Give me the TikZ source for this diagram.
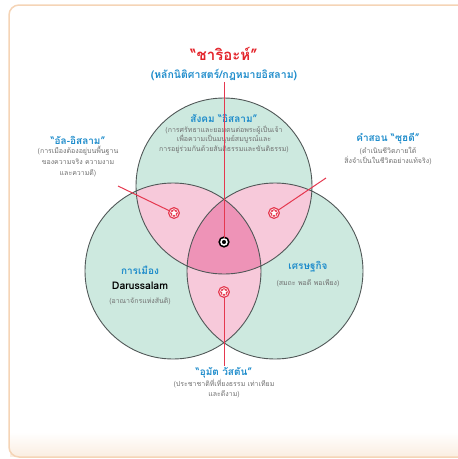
\documentclass[tikz,border=0pt]{standalone}
\usepackage{fontspec}
\newfontfamily\thaifont[Script=Thai]{Loma}
\usetikzlibrary{shapes.geometric,backgrounds}

\definecolor{mint}{HTML}{CDE9DF}
\definecolor{petal}{HTML}{F7C9DA}
\definecolor{core}{HTML}{EE93B7}
\definecolor{rim}{HTML}{515858}
\definecolor{linered}{HTML}{E5384F}
\definecolor{headred}{HTML}{E3242B}
\definecolor{headblue}{HTML}{1E8CCB}
\definecolor{notegray}{HTML}{707070}
\definecolor{peach}{HTML}{F5D4B6}

\def\R{88}

\begin{document}
\begin{tikzpicture}[x=1pt,y=-1pt,
  head/.style={font=\thaifont\bfseries\fontsize{10}{12}\selectfont,text=headblue,inner sep=1pt},
  note/.style={font=\thaifont\fontsize{7}{9.5}\selectfont,text=notegray,align=center,inner sep=1pt},
  starnode/.style={circle,fill=linered,draw=linered,double=white,line width=1.3pt,double distance=0.6pt,minimum size=8.5pt,inner sep=0pt},
  starmark/.style={star,star points=5,star point ratio=2.2,fill=white,minimum size=7pt,inner sep=0pt},
  hubnode/.style={circle,fill=black!75!red,draw=black,double=white,line width=1.7pt,double distance=1.5pt,minimum size=6pt,inner sep=0pt},
  link/.style={draw=linered,line width=1pt}]

\useasboundingbox (0,0) rectangle (458,459);

% frame and the three circles
\begin{scope}[on background layer]
  \shade[top color=white,bottom color=peach!40] (10,432) rectangle (458,456);
  \draw[peach,line width=1.5pt,rounded corners=10pt] (458,5) -- (9,5) -- (9,457) -- (458,457);
  \coordinate (cS) at (224,186);
  \coordinate (cP) at (173,271);
  \coordinate (cE) at (275,271);
  \fill[mint] (cS) circle[radius=\R] (cP) circle[radius=\R] (cE) circle[radius=\R];
  \begin{scope}
    \clip (cS) circle[radius=\R];
    \fill[petal] (cP) circle[radius=\R] (cE) circle[radius=\R];
  \end{scope}
  \begin{scope}
    \clip (cP) circle[radius=\R];
    \fill[petal] (cE) circle[radius=\R];
  \end{scope}
  \begin{scope}
    \clip (cS) circle[radius=\R];
    \clip (cP) circle[radius=\R];
    \fill[core] (cE) circle[radius=\R];
  \end{scope}
  \draw[rim,line width=0.9pt] (cS) circle[radius=\R] (cP) circle[radius=\R] (cE) circle[radius=\R];
\end{scope}

\path
(224,54) node[font=\thaifont\bfseries\fontsize{15}{18}\selectfont,text=headred] (sharia) {“ชาริอะห์”}
(224,75) node[head,font=\thaifont\bfseries\fontsize{10.5}{12}\selectfont] (fiqh) {(หลักนิติศาสตร์/กฎหมายอิสลาม)}

(224,118) node[head] (society) {สังคม “อิสลาม”}
(224,139.5) node[note] (societynote) {(การศรัทธาและยอมตนต่อพระผู้เป็นเจ้า\\เพื่อความเป็นมนุษย์สมบูรณ์และ\\การอยู่ร่วมกันด้วยสันติธรรมและขันติธรรม)}

(78,140) node[head] (islah) {“อัล-อิสลาม”}
(78,162) node[note,font=\thaifont\fontsize{7}{11}\selectfont] (islahnote) {(การเมืองต้องอยู่บนพื้นฐาน\\ของความจริง ความงาม\\และความดี)}

(388,139) node[head] (zuhd) {คำสอน “ซุฮดี”}
(388,156) node[note,font=\thaifont\fontsize{7}{10}\selectfont] (zuhdnote) {(ดำเนินชีวิตภายใต้\\สิ่งจำเป็นในชีวิตอย่างแท้จริง)}

(140,270) node[head] (politics) {การเมือง}
(140,286) node[font=\thaifont\bfseries\fontsize{10.5}{12}\selectfont,inner sep=1pt] (darus) {Darussalam}
(140,301) node[note] (politicsnote) {(อาณาจักรแห่งสันติ)}

(308,267) node[head] (economy) {เศรษฐกิจ}
(308,283) node[note] (economynote) {(สมถะ พอดี พอเพียง)}

(224,373) node[head] (umma) {“อุมัต วัสตัน”}
(224,388.5) node[note,font=\thaifont\fontsize{7}{10}\selectfont] (ummanote) {(ประชาชาติที่เที่ยงธรรม เท่าเทียม\\และดีงาม)}

(174,213) node[starnode] (sL) {}
(274,213) node[starnode] (sR) {}
(224,292) node[starnode] (sB) {}
(224,242) node[hubnode] (hub) {};

\node[starmark] (sLstar) at (sL) {};
\node[starmark] (sRstar) at (sR) {};
\node[starmark] (sBstar) at (sB) {};

\coordinate (endL) at (118,186);
\coordinate (endR) at (326,178);

\draw[link] (fiqh) -- (hub);
\draw[link] (sL) -- (endL);
\draw[link] (sR) -- (endR);
\draw[link] (sB) -- (umma);
\end{tikzpicture}
\end{document}
